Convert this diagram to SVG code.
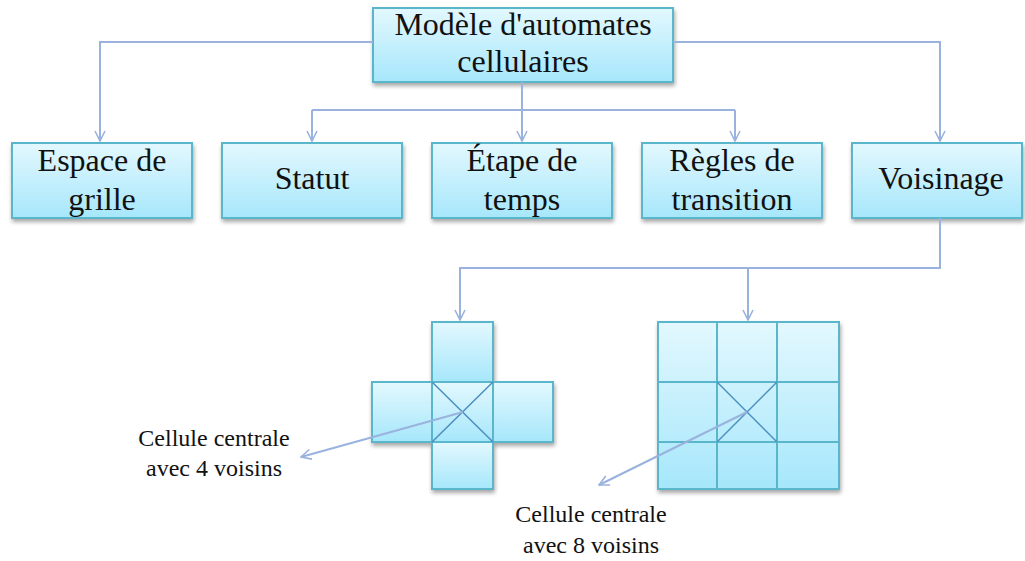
<svg xmlns="http://www.w3.org/2000/svg" width="1025" height="561" viewBox="0 0 1025 561">
<defs>
<linearGradient id="g" x1="0" y1="0" x2="0" y2="1">
<stop offset="0" stop-color="#e3f8fe"/>
<stop offset="1" stop-color="#a6e7fb"/>
</linearGradient>
<filter id="sh" x="-10%" y="-10%" width="120%" height="130%">
<feGaussianBlur in="SourceAlpha" stdDeviation="2"/>
<feOffset dx="1" dy="3"/>
<feComponentTransfer><feFuncA type="linear" slope="0.35"/></feComponentTransfer>
<feMerge><feMergeNode/><feMergeNode in="SourceGraphic"/></feMerge>
</filter>
<marker id="a" viewBox="0 0 12 12" refX="11" refY="6" markerWidth="12" markerHeight="12" markerUnits="userSpaceOnUse" orient="auto">
<path d="M1,1 L11,6 L1,11" fill="none" stroke="#9ab2de" stroke-width="1.6"/>
</marker>
</defs>
<style>
.box{fill:url(#g);stroke:#5ab6cb;stroke-width:2;filter:url(#sh)}
.cell{fill:url(#g);stroke:#5ab6cb;stroke-width:2}
.t{font-size:32px;fill:#111;text-anchor:middle}
.s{font-size:24px;fill:#111;text-anchor:middle}
.c{fill:none;stroke:#9ab2de;stroke-width:2}
.d{stroke:#4a8fc0;stroke-width:1.5}
</style>
<g id="n-top"><rect class="box" x="373" y="8" width="300" height="74"/><text class="t" font-family="Liberation Serif" x="523" y="35">Modèle d'automates</text><text class="t" font-family="Liberation Serif" x="523" y="72">cellulaires</text></g>
<g id="n-espace"><rect class="box" x="12" y="143" width="180" height="75"/><text class="t" font-family="Liberation Serif" x="102" y="171">Espace de</text><text class="t" font-family="Liberation Serif" x="102" y="210">grille</text></g>
<g id="n-statut"><rect class="box" x="222" y="143" width="180" height="75"/><text class="t" font-family="Liberation Serif" x="312" y="189">Statut</text></g>
<g id="n-etape"><rect class="box" x="432" y="143" width="180" height="75"/><text class="t" font-family="Liberation Serif" x="522" y="171">Étape de</text><text class="t" font-family="Liberation Serif" x="522" y="210">temps</text></g>
<g id="n-regles"><rect class="box" x="642" y="143" width="180" height="75"/><text class="t" font-family="Liberation Serif" x="732" y="171">Règles de</text><text class="t" font-family="Liberation Serif" x="732" y="210">transition</text></g>
<g id="n-voisinage"><rect class="box" x="852" y="143" width="170" height="75"/><text class="t" font-family="Liberation Serif" x="941" y="189">Voisinage</text></g>
<g id="n-cross">
<g filter="url(#sh)">
<rect class="cell" x="432" y="322" width="61" height="60"/>
<rect class="cell" x="372" y="382" width="60" height="60"/>
<rect class="cell" x="493" y="382" width="60" height="60"/>
<rect class="cell" x="432" y="442" width="61" height="47"/>
<rect class="cell" x="432" y="382" width="61" height="60"/>
</g>
<line class="d" x1="432" y1="382" x2="493" y2="442"/>
<line class="d" x1="493" y1="382" x2="432" y2="442"/>
</g>
<g id="n-grid">
<g filter="url(#sh)">
<rect class="cell" x="658" y="322" width="181" height="167"/>
</g>
<path class="cell" d="M717,322 V489 M777,322 V489 M658,382 H839 M658,442 H839" fill="none"/>
<line class="d" x1="717" y1="382" x2="777" y2="442"/>
<line class="d" x1="777" y1="382" x2="717" y2="442"/>
</g>
<g id="label-4">
<text class="s" font-family="Liberation Serif" x="214" y="446">Cellule centrale</text>
<text class="s" font-family="Liberation Serif" x="214" y="476">avec 4 voisins</text>
</g>
<g id="label-8">
<text class="s" font-family="Liberation Serif" x="591" y="522">Cellule centrale</text>
<text class="s" font-family="Liberation Serif" x="591" y="553">avec 8 voisins</text>
</g>
<g id="connectors">
<path class="c" d="M373,42 H100 V141" marker-end="url(#a)"/>
<path class="c" d="M673,42 H940 V141" marker-end="url(#a)"/>
<path class="c" d="M522,82 V110"/>
<path class="c" d="M312,110 H735"/>
<path class="c" d="M312,110 V141" marker-end="url(#a)"/>
<path class="c" d="M522,110 V141" marker-end="url(#a)"/>
<path class="c" d="M735,110 V141" marker-end="url(#a)"/>
<path class="c" d="M940,218 V268 H460 V320" marker-end="url(#a)"/>
<path class="c" d="M748,268 V320" marker-end="url(#a)"/>
<path class="c" d="M463,412 L301,457" marker-end="url(#a)"/>
<path class="c" d="M747,412 L599,485" marker-end="url(#a)"/>
</g>
</svg>
